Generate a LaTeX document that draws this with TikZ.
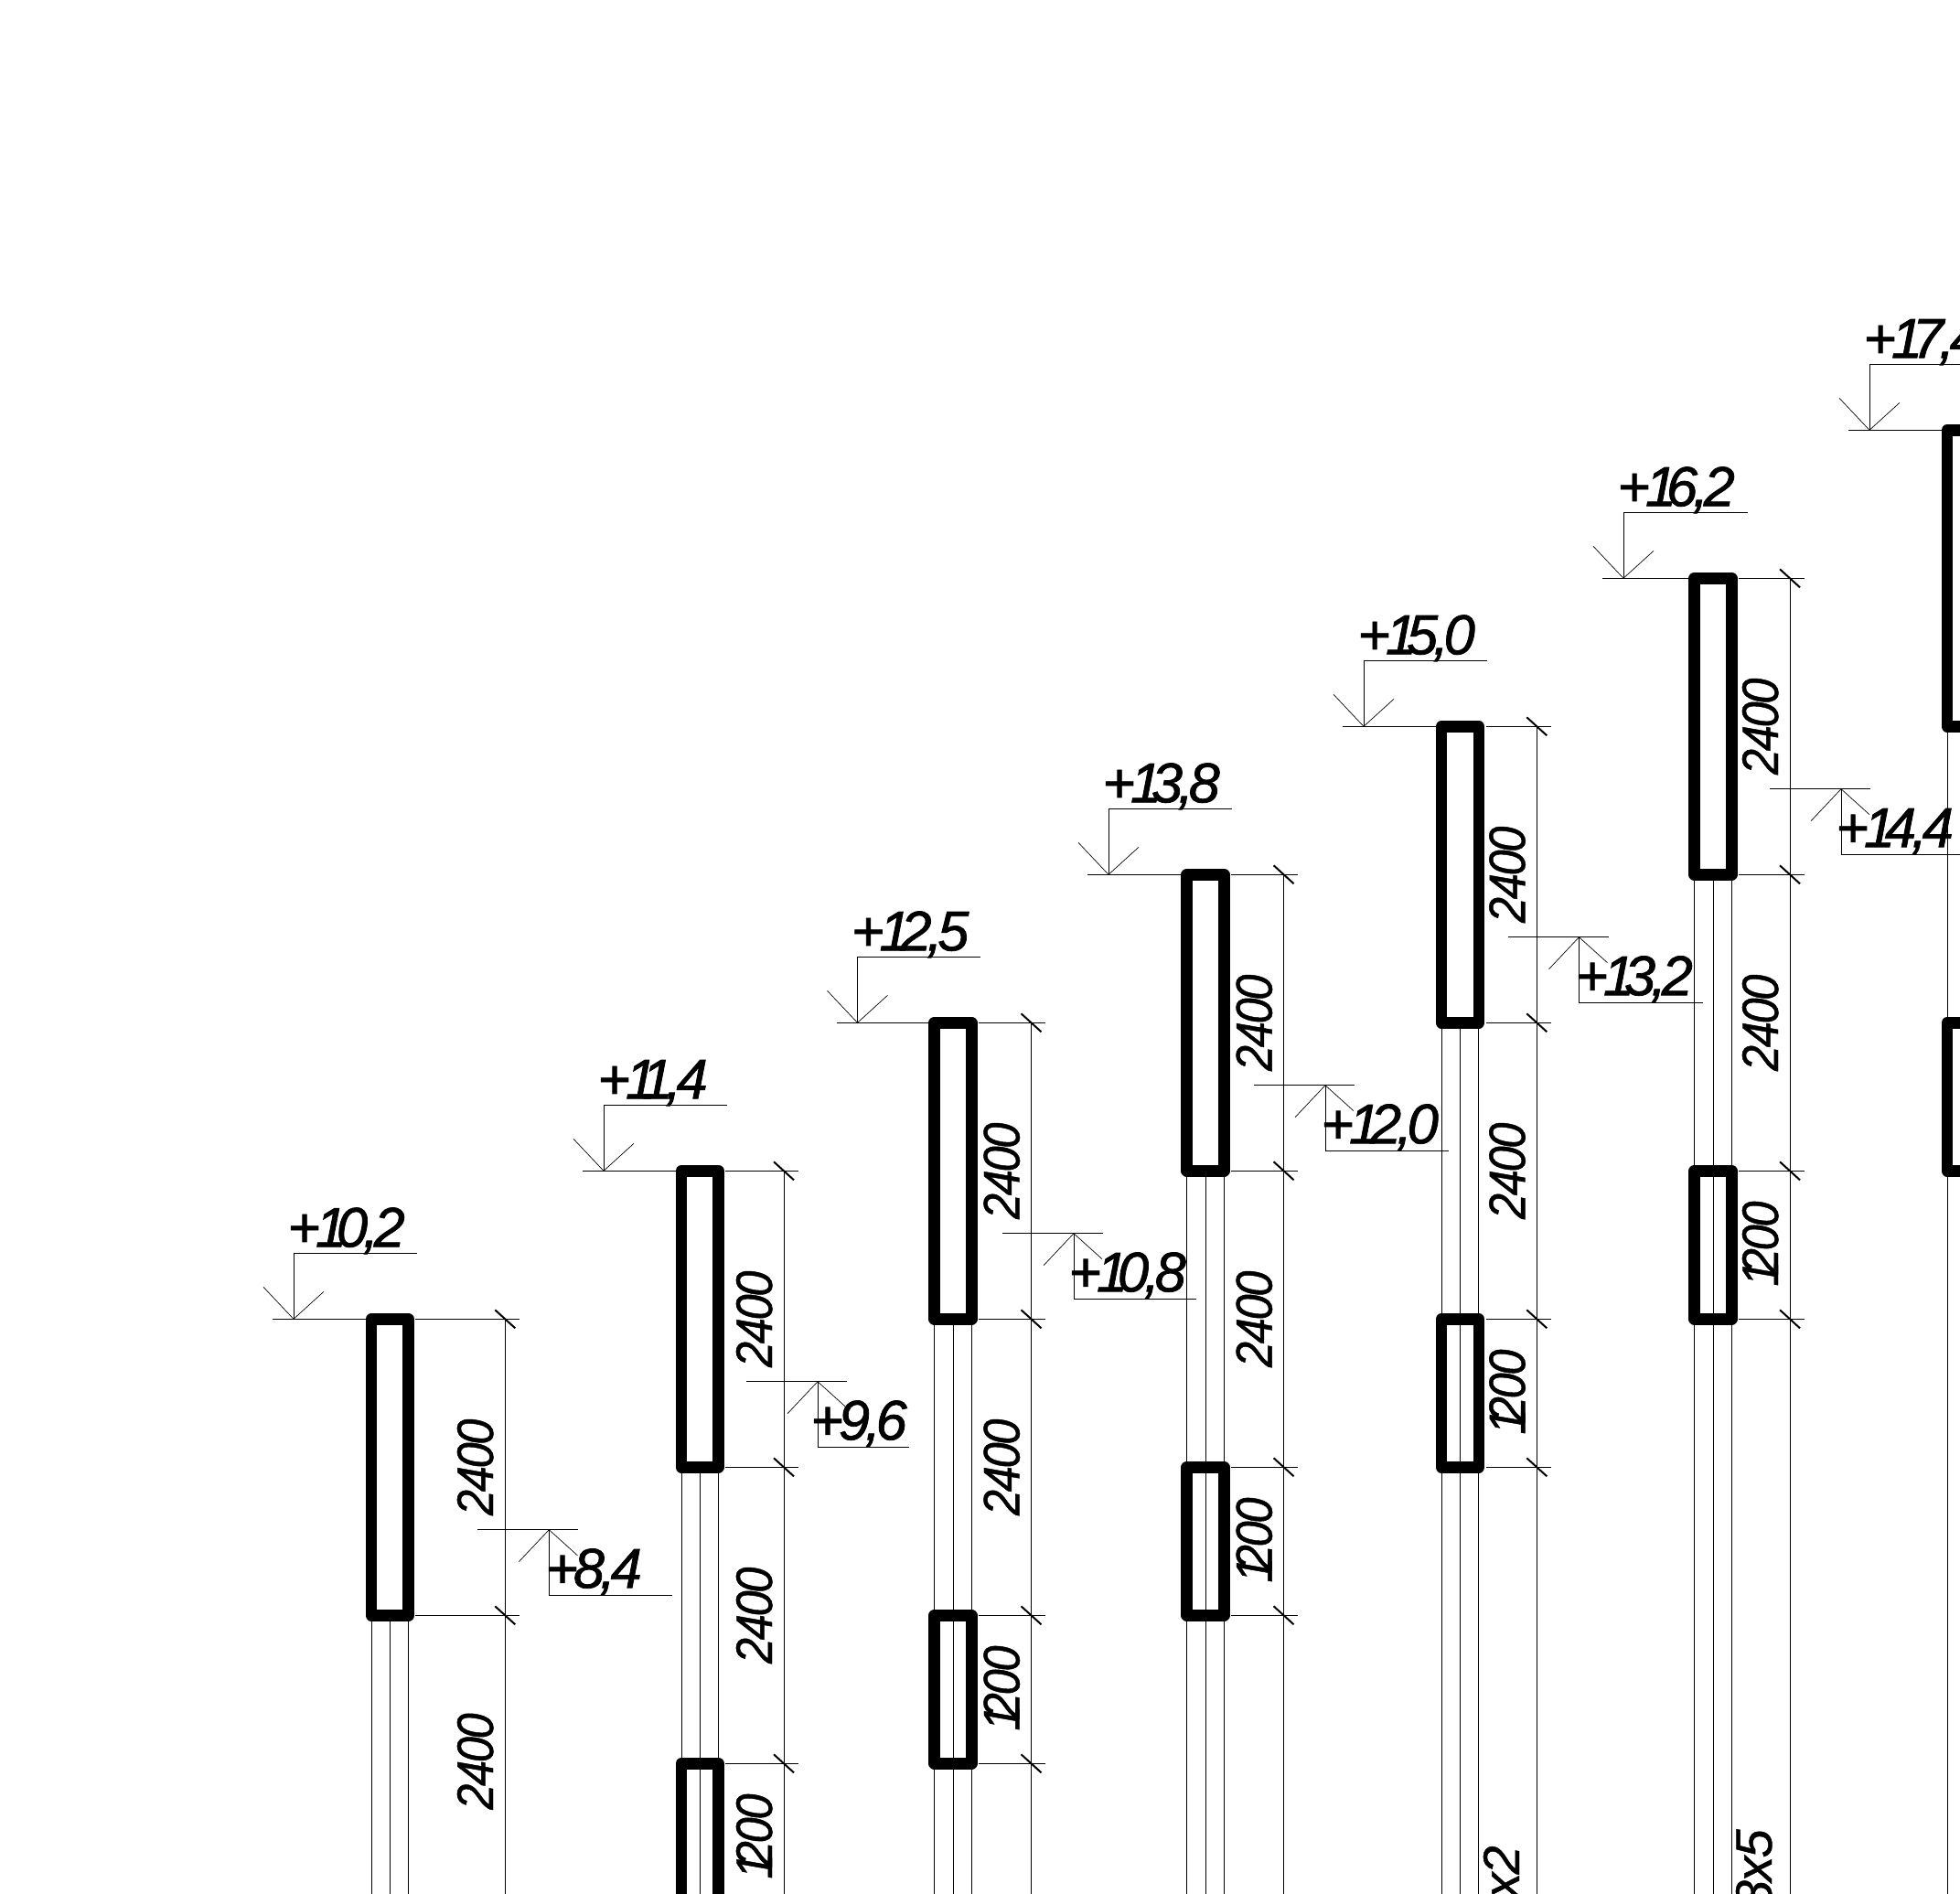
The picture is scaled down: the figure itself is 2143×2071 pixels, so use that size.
\documentclass[tikz,border=0pt]{standalone}
\usepackage{fontspec}
\setmainfont{Liberation Sans}
\newfontfamily\elevfont[LetterSpace=-8.5,FakeBold=1.2]{Liberation Sans}
\newfontfamily\dimfont[FakeStretch=0.9,LetterSpace=-4,FakeBold=0.8]{Liberation Sans}
\newfontfamily\sizefont[LetterSpace=-3,FakeBold=0.8]{Liberation Sans}
\newcommand{\ek}{\kern-8.25pt}
\newcommand{\dk}{\kern-11pt}
\tikzset{
  wall/.style={line width=9.4pt,line join=round,draw=black},
  thin line/.style={line width=0.75pt,draw=black},
  wing/.style={line width=0.5pt,draw=black},
  tickmark/.style={line width=1.5pt,draw=black},
  elev/.style={inner sep=0pt,anchor=base west,font=\elevfont\itshape\fontsize{46}{46}\selectfont},
  dimtext/.style={inner sep=0pt,anchor=base,rotate=90,font=\dimfont\itshape\fontsize{42}{42}\selectfont},
  sizetext/.style={inner sep=0pt,anchor=base east,rotate=90,font=\sizefont\itshape\fontsize{42}{42}\selectfont},
}
% wall element: centre x, top, bottom
\newcommand{\wallel}[3]{\draw[wall] (#1-20.3,#2) rectangle (#1+20.3,#3);}
% three rails: centre x, top, bottom
\newcommand{\railset}[3]{\draw[thin line] (#1-20.3,#2) -- (#1-20.3,#3) (#1,#2) -- (#1,#3) (#1+20.3,#2) -- (#1+20.3,#3);}
% extension line with tick: centre x, dim x, level
\newcommand{\exttick}[3]{%
  \draw[thin line] (#1+28,#3) -- (#2+15.5,#3);
  \draw[tickmark] (#2-11,#3-10) -- (#2+11,#3+10);}
% dimension text: name, baseline x, mid y, text
\newcommand{\dimlab}[4]{\node[dimtext] (#1) at (#2,#3) {#4};}
% elevation mark above: name, tip x, level, wall left x, leader length, text
\newcommand{\elevtop}[6]{%
  \coordinate (#1tip) at (#2,#3);
  \coordinate (#1up) at (#2,#3-72);
  \coordinate (#1end) at (#2+#5,#3-72);
  \coordinate (#1lev) at (#2-23,#3);
  \coordinate (#1wall) at (#4,#3);
  \draw[thin line] (#1lev) -- (#1wall) (#1tip) -- (#1up) -- (#1end);
  \draw[wing] (#2-33,#3-35) -- (#1tip) -- (#2+33,#3-30);
  \node[elev] (#1text) at (#2-7,#3-79) {#6};}
% elevation mark below: name, tip x, level, leader length, text x, text
\newcommand{\elevlow}[6]{%
  \coordinate (#1tip) at (#2,#3);
  \coordinate (#1down) at (#2,#3+72);
  \coordinate (#1end) at (#2+#4,#3+72);
  \coordinate (#1a) at (#2-78,#3);
  \coordinate (#1b) at (#2+32,#3);
  \draw[thin line] (#1a) -- (#1b) (#1tip) -- (#1down) -- (#1end);
  \draw[wing] (#2-33,#3+35) -- (#1tip) -- (#2+31,#3+28);
  \node[elev] (#1text) at (#5,#3+63.5) {#6};}
\begin{document}
\begin{tikzpicture}[x=0.75pt,y=-0.75pt]
\useasboundingbox (0,0) rectangle (2143,2071);
\fill[white] (0,0) rectangle (2143,2071);
\clip (0,0) rectangle (2143,2071);
% column 1
\railset{426.4}{1766.3}{2071}
\wallel{426.4}{1442.3}{1766.3}
\draw[thin line] (552.3,1442.3) -- (552.3,2071);
\exttick{426.4}{552.3}{1442.3}\exttick{426.4}{552.3}{1766.3}
\dimlab{d1a}{539}{1604.3}{2400}\dimlab{d1b}{539}{1926}{2400}
\elevtop{t1}{321}{1442.3}{400}{134.5}{+1\ek 0,2}
\elevlow{l1}{600.3}{1672.7}{135}{596}{+8,4}
% column 2
\railset{765.3}{1604.3}{2071}
\wallel{765.3}{1280.3}{1604.3}\wallel{765.3}{1928.3}{2110}
\draw[thin line] (857,1280.3) -- (857,2071);
\exttick{765.3}{857}{1280.3}\exttick{765.3}{857}{1604.3}\exttick{765.3}{857}{1928.3}
\dimlab{d2a}{844}{1442.3}{2400}\dimlab{d2b}{844}{1766.3}{2400}\dimlab{d2c}{844}{2008}{1\dk 200}
\elevtop{t2}{660}{1280.3}{739}{134.5}{+1\ek\kern-4pt 1\kern-6pt,4}
\elevlow{l2}{894}{1510.7}{100}{886}{+9,6}
% column 3
\railset{1042}{1442.3}{2071}
\wallel{1042}{1118.3}{1442.3}\wallel{1042}{1766.3}{1928.3}
\draw[thin line] (1127.5,1118.3) -- (1127.5,2071);
\exttick{1042}{1127.5}{1118.3}\exttick{1042}{1127.5}{1442.3}\exttick{1042}{1127.5}{1766.3}\exttick{1042}{1127.5}{1928.3}
\dimlab{d3a}{1114.5}{1280.3}{2400}\dimlab{d3b}{1114.5}{1604.3}{2400}\dimlab{d3c}{1114.5}{1846}{1\dk 200}
\elevtop{t3}{937.5}{1118.3}{1016}{134.5}{+1\ek 2,5}
\elevlow{l3}{1174}{1348.7}{134}{1168}{+1\ek 0,8}
% column 4
\railset{1318}{1280.3}{2071}
\wallel{1318}{956.3}{1280.3}\wallel{1318}{1604.3}{1766.3}
\draw[thin line] (1403.6,956.3) -- (1403.6,2071);
\exttick{1318}{1403.6}{956.3}\exttick{1318}{1403.6}{1280.3}\exttick{1318}{1403.6}{1604.3}\exttick{1318}{1403.6}{1766.3}
\dimlab{d4a}{1390.6}{1118.3}{2400}\dimlab{d4b}{1390.6}{1442.3}{2400}\dimlab{d4c}{1390.6}{1684}{1\dk 200}
\elevtop{t4}{1212}{956.3}{1291}{134.5}{+1\ek 3,8}
\elevlow{l4}{1449}{1186.7}{135}{1444}{+1\ek 2,0}
% column 5
\railset{1596.5}{1118.3}{2071}
\wallel{1596.5}{794.3}{1118.3}\wallel{1596.5}{1442.3}{1604.3}
\draw[thin line] (1680.3,794.3) -- (1680.3,2071);
\exttick{1596.5}{1680.3}{794.3}\exttick{1596.5}{1680.3}{1118.3}\exttick{1596.5}{1680.3}{1442.3}\exttick{1596.5}{1680.3}{1604.3}
\dimlab{d5a}{1667.3}{956.3}{2400}\dimlab{d5b}{1667.3}{1280.3}{2400}\dimlab{d5c}{1667.3}{1522}{1\dk 200}
\node[sizetext] (d5d) at (1661,2018) {8x2};
\elevtop{t5}{1491}{794.3}{1570}{134.5}{+1\ek 5,0}
\elevlow{l5}{1726.5}{1024.7}{135}{1722}{+1\ek 3,2}
% column 6
\railset{1873}{956.3}{2071}
\wallel{1873}{632.3}{956.3}\wallel{1873}{1280.3}{1442.3}
\draw[thin line] (1957,632.3) -- (1957,2071);
\exttick{1873}{1957}{632.3}\exttick{1873}{1957}{956.3}\exttick{1873}{1957}{1280.3}\exttick{1873}{1957}{1442.3}
\dimlab{d6a}{1944}{794.3}{2400}\dimlab{d6b}{1944}{1118.3}{2400}\dimlab{d6c}{1944}{1360}{1\dk 200}
\node[sizetext] (d6d) at (1937,2000) {8x5};
\elevtop{t6}{1775}{632.3}{1847}{136}{+1\ek 6,2}
\elevlow{l6}{2013}{862.7}{136}{2007}{+1\ek 4,4}
% column 7
\railset{2149.3}{794.3}{2071}
\wallel{2149.3}{470.3}{794.3}\wallel{2149.3}{1118.3}{1280.3}
\elevtop{t7}{2044}{470.3}{2123}{134.5}{+1\ek 7,4}
\end{tikzpicture}
\end{document}
